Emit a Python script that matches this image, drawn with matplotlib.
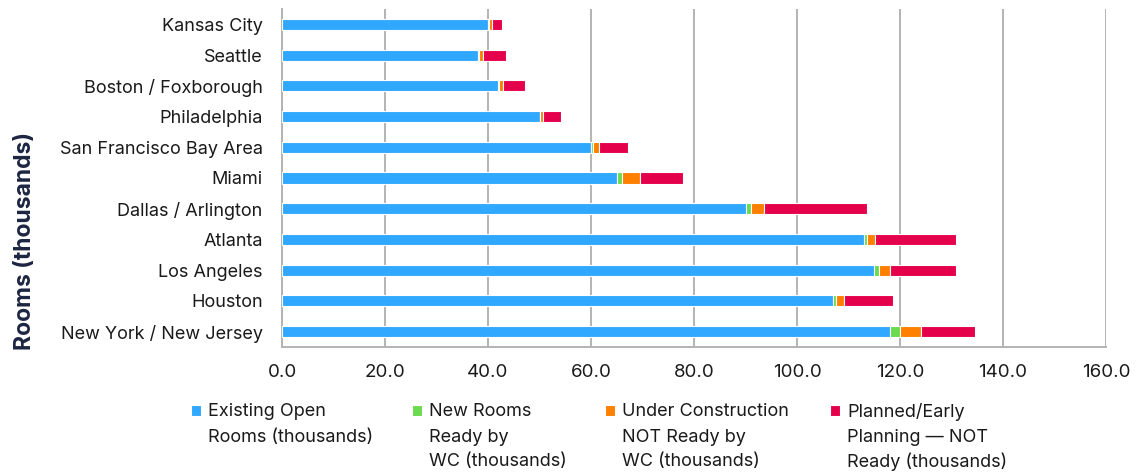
import matplotlib
matplotlib.use("Agg")
import matplotlib.pyplot as plt
import numpy as np

cities = ["Kansas City", "Seattle", "Boston / Foxborough", "Philadelphia",
          "San Francisco Bay Area", "Miami", "Dallas / Arlington", "Atlanta",
          "Los Angeles", "Houston", "New York / New Jersey"]

existing = [40.0, 38.0, 42.0, 50.0, 60.0, 65.0, 90.0, 113.0, 115.0, 107.0, 118.0]
new_ready = [0.1, 0.3, 0.1, 0.1, 0.4, 1.0, 1.0, 0.5, 0.9, 0.5, 2.0]
under_construction = [0.6, 0.7, 0.9, 0.6, 1.1, 3.6, 2.6, 1.6, 2.2, 1.7, 4.0]
planned = [2.1, 4.4, 4.2, 3.5, 5.6, 8.2, 20.0, 15.7, 12.8, 9.5, 10.5]

series_labels = [["Existing Open", "Rooms (thousands)"],
                 ["New Rooms", "Ready by", "WC (thousands)"],
                 ["Under Construction", "NOT Ready by", "WC (thousands)"],
                 ["Planned/Early", "Planning \u2014 NOT", "Ready (thousands)"]]
colors = ["#30A8FF", "#6ADB4E", "#FF8000", "#E5004C"]

x_ticks = [0, 20, 40, 60, 80, 100, 120, 140, 160]

plt.rcParams["font.family"] = ["Inter", "DejaVu Sans"]

W, H = 1147, 472
fig = plt.figure(figsize=(W / 100, H / 100), dpi=100)
ax = fig.add_axes([0.2459, 0.2648, 0.9643 - 0.2459, 0.981 - 0.2648])

y = np.arange(len(cities))
left = np.zeros(len(cities))
bars = []
for vals, col, lab in zip([existing, new_ready, under_construction, planned],
                          colors, series_labels):
    b = ax.barh(y, vals, left=left, height=0.36, color=col,
                edgecolor="white", linewidth=0.8, label=" ".join(lab), zorder=3)
    bars.append(b)
    left = left + np.array(vals)

ax.set_ylim(len(cities) - 0.5, -0.5)
ax.set_xlim(0, 160)
ax.set_xticks(x_ticks)
ax.set_xticklabels([f"{v:.1f}" for v in x_ticks], fontsize=13.5, color="#1a1a1a")
ax.set_yticks(y)
ax.set_yticklabels(cities, fontsize=13, color="#1a1a1a")
ax.tick_params(axis="y", length=0, pad=14)
ax.tick_params(axis="x", length=0, pad=12)
ax.xaxis.grid(True, color="#b3b3b3", linewidth=1.4, zorder=0)
for side in ["top", "right"]:
    ax.spines[side].set_visible(False)
for side in ["left", "bottom"]:
    ax.spines[side].set_color("#b3b3b3")
    ax.spines[side].set_linewidth(1.4)

fig.text(0.022, 0.49, "Rooms (thousands)", rotation=90, fontsize=16.5,
         fontweight="bold", color="#1c2541", ha="center", va="center")

# Legend: one entry per column, the label wrapped over several lines
LEG_FS = 13
LINE_PX = 25
col_x = [191, 412, 605, 830]
legends = []
for b, lines, x in zip(bars, series_labels, col_x):
    lg = fig.legend([b.patches[0]], [lines[0]], loc="center left",
                    bbox_to_anchor=(x / W, 1 - 412 / H), frameon=False,
                    prop={"size": LEG_FS}, handlelength=0.55,
                    handleheight=0.55, handletextpad=0.4,
                    borderpad=0, borderaxespad=0)
    lg.get_texts()[0].set_color("#1a1a1a")
    legends.append(lg)

fig.canvas.draw()
inv = fig.transFigure.inverted()
for lg, lines in zip(legends, series_labels):
    t = lg.get_texts()[0]
    xb, yb = t.get_transform().transform(t.get_position())
    for k, line in enumerate(lines[1:], start=1):
        fx, fy = inv.transform((xb, yb - k * LINE_PX))
        fig.text(fx, fy, line, fontsize=LEG_FS, color="#1a1a1a",
                 ha="left", va="baseline")

fig.savefig("out.png", dpi=100)
